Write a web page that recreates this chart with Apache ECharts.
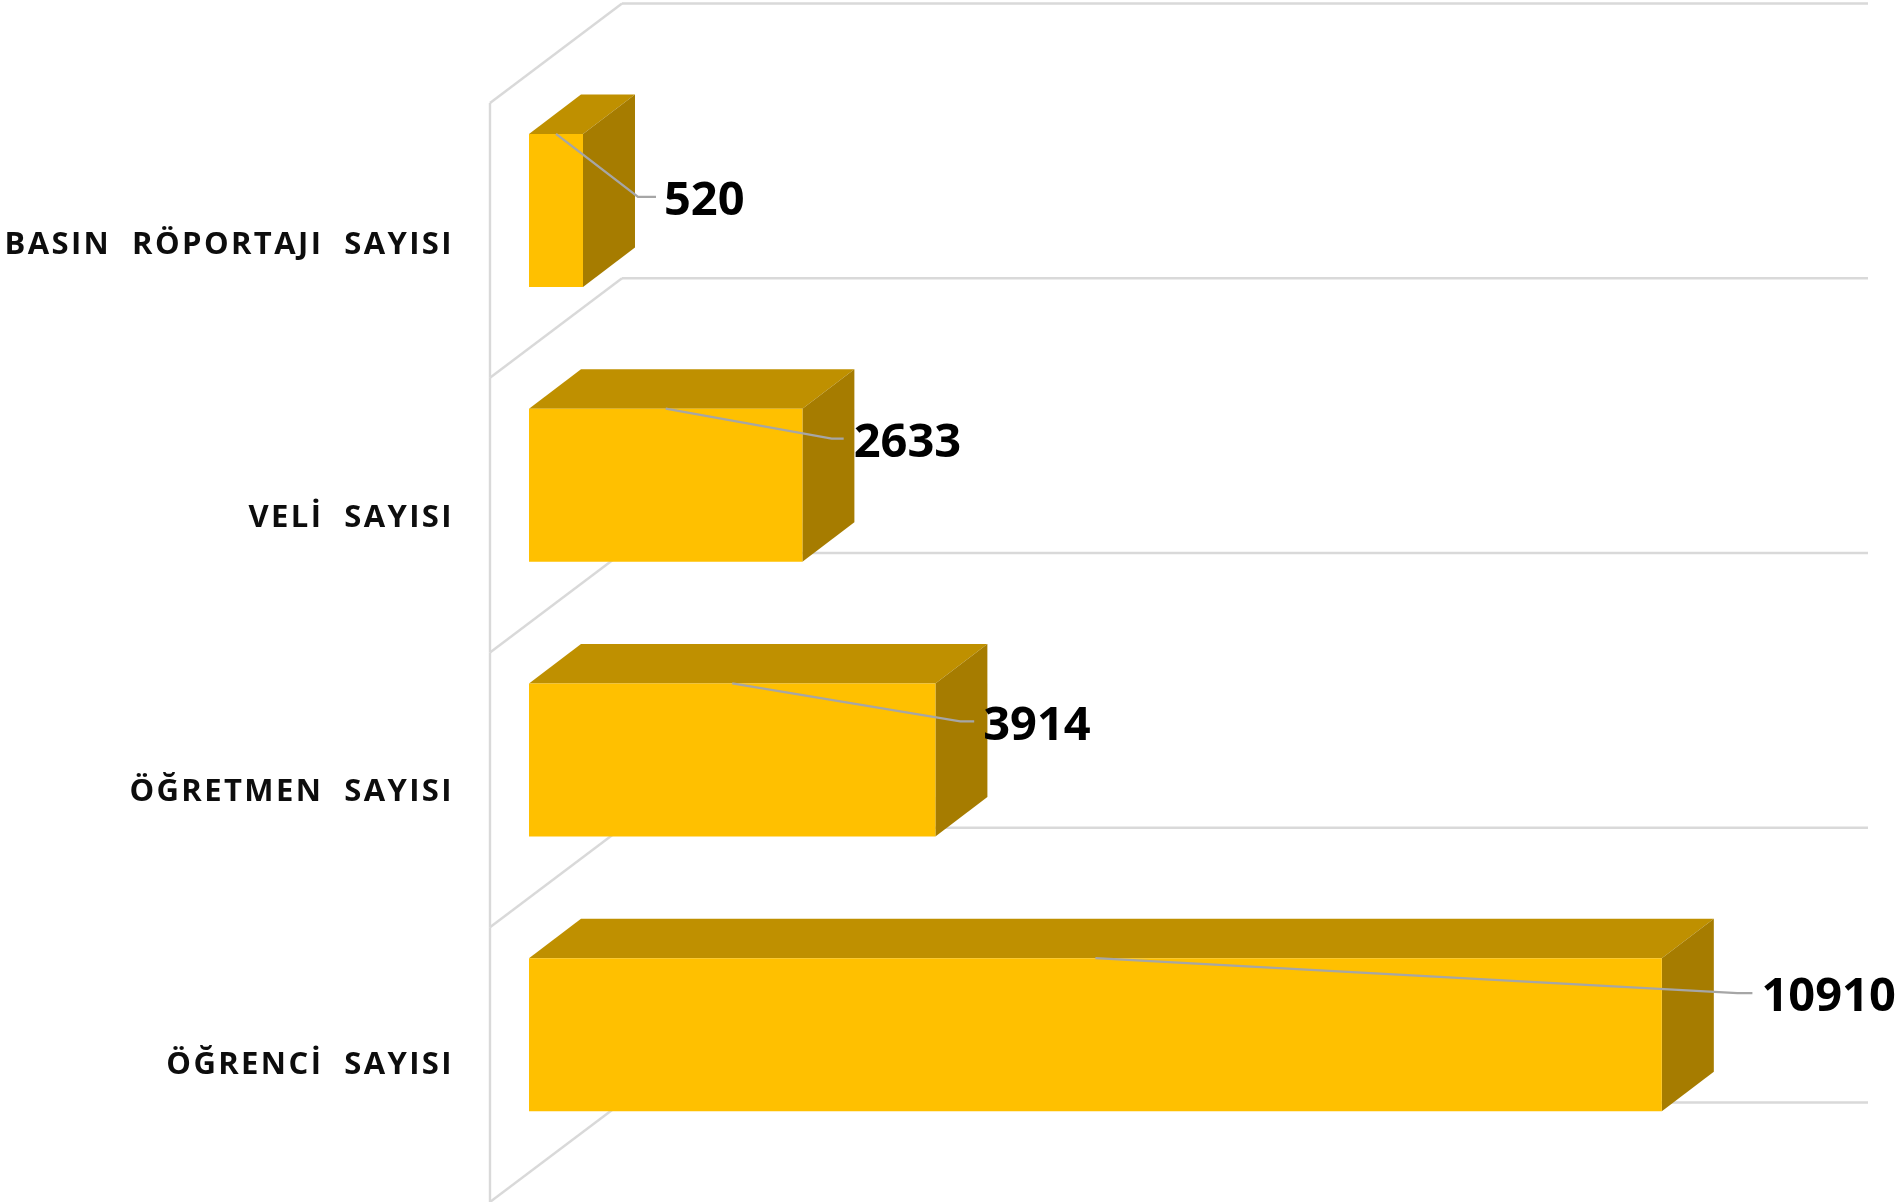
<!DOCTYPE html>
<html><head><meta charset="utf-8">
<style>html,body{margin:0;padding:0;background:#fff}#c{width:1899px;height:1202px}</style>
<script src="https://cdn.jsdelivr.net/npm/echarts@6/dist/echarts.min.js"></script></head>
<body><div id="c"></div>
<script>
const categories = ['ÖĞRENCİ  SAYISI','ÖĞRETMEN  SAYISI','VELİ  SAYISI','BASIN  RÖPORTAJI  SAYISI'];
const values = [10910, 3914, 2633, 520];
const axisMax = 12000;
// leader-line layout, pixels from the bar's top-centre: [bendX, endX, endY]
const leaderLayout = [[642,657,35],[228,242,38],[166,178,30],[82,100,63]];
const labelGap = [9,9,10,8];
const labelLift = [4,5,5,5];

// category labels are letter-spaced in the reference
const nativeFillText = CanvasRenderingContext2D.prototype.fillText;
CanvasRenderingContext2D.prototype.fillText = function(t){
  this.letterSpacing = categories.includes(t) ? '2.4px' : '0px';
  return nativeFillText.apply(this, arguments);
};

const D = {dx:52, dy:39.5, gx:39, gy:30, bx:41};
const chart = echarts.init(document.getElementById('c'));

function wall(params, api){
  const c = api.coord([0, api.value(0)]);
  const band = api.size([0,1])[1];
  const yLow = c[1] + band/2;
  const yUp = yLow - band;
  const right = api.coord([axisMax, 0])[0];
  const lineStyle = {stroke:'#D9D9D9', lineWidth:2.4, fill:null};
  const bx = c[0] + D.dx + D.bx, fx = c[0] - D.gx;
  const by = D.dy + D.gy, fy = D.gy;
  const kids = [
    {type:'line', shape:{x1:fx,y1:yLow+fy,x2:fx,y2:yUp+fy}, style:lineStyle},
    {type:'line', shape:{x1:fx,y1:yLow+fy,x2:bx,y2:yLow-by}, style:lineStyle},
    {type:'line', shape:{x1:bx,y1:yLow-by,x2:bx+right-c[0],y2:yLow-by}, style:lineStyle}
  ];
  if (params.dataIndex === categories.length-1) {
    kids.push({type:'line', shape:{x1:fx,y1:yUp+fy,x2:bx,y2:yUp-by}, style:lineStyle});
    kids.push({type:'line', shape:{x1:bx,y1:yUp-by,x2:bx+right-c[0],y2:yUp-by}, style:lineStyle});
  }
  return {type:'group', children:kids};
}

function bar3d(params, api){
  const i = params.dataIndex;
  const start = api.coord([0, i]);
  const end = api.coord([api.value(0), i]);
  const h = 153;
  const x0 = start[0], x1 = end[0], t = start[1]-h/2, b = start[1]+h/2;
  const d = D;
  const L = leaderLayout[i];
  const mx = (x0+x1)/2;
  return {type:'group', children:[
    {type:'polygon', shape:{points:[[x0,t],[x0+d.dx,t-d.dy],[x1+d.dx,t-d.dy],[x1,t]]}, style:{fill:'#BF9000'}},
    {type:'polygon', shape:{points:[[x1,t],[x1+d.dx,t-d.dy],[x1+d.dx,b-d.dy],[x1,b]]}, style:{fill:'#A67C00'}},
    {type:'rect', shape:{x:x0,y:t,width:x1-x0,height:b-t}, style:{fill:'#FFC000'}},
    {type:'polyline', shape:{points:[[mx,t],[mx+L[0],t+L[2]],[mx+L[1],t+L[2]]]}, style:{stroke:'#A6A6A6',lineWidth:2.4,fill:null}, z2:5},
    {type:'text', x:mx+L[1]+labelGap[i], y:t+L[2]+labelLift[i], style:{text:String(api.value(0)),fill:'#000',font:'bold 47px "Open Sans"',align:'left',verticalAlign:'middle'}, z2:6}
  ]};
}

chart.setOption({
  animation:false,
  backgroundColor:'#fff',
  grid:[
    {left:529, top:73, width:1246, height:1099},
    {left:490, top:108, width:1246, height:1099}
  ],
  xAxis:[
    {type:'value', gridIndex:0, min:0, max:axisMax, interval:3000, show:false},
    {type:'value', gridIndex:1, min:0, max:axisMax, interval:3000, show:false}
  ],
  yAxis:[
    {type:'category', gridIndex:0, data:categories, show:false},
    {type:'category', gridIndex:1, data:categories,
     axisLine:{show:false}, axisTick:{show:false}, splitLine:{show:false},
     axisLabel:{margin:36, color:'#0d0d0d', fontFamily:'"Open Sans"', fontWeight:'bold', fontSize:31}}
  ],
  series:[
    {type:'custom', xAxisIndex:0, yAxisIndex:0, silent:true, clip:false, z:1, data:values.map((v,i)=>[i]), encode:{x:-1,y:0}, renderItem:wall},
    {type:'custom', xAxisIndex:0, yAxisIndex:0, silent:true, clip:false, z:2, data:values, encode:{x:0}, renderItem:bar3d}
  ]
});
</script></body></html>
